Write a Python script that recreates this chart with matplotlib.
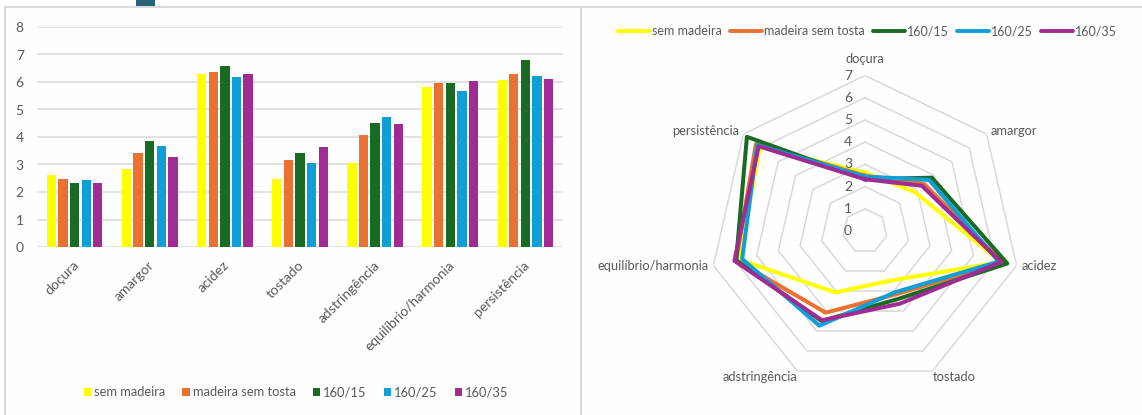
import numpy as np
import matplotlib
matplotlib.use("Agg")
import matplotlib.pyplot as plt
from matplotlib.patches import Rectangle
from matplotlib.lines import Line2D
import matplotlib.transforms as mtransforms

# ---- data -------------------------------------------------------------
categories = ["doçura", "amargor", "acidez", "tostado", "adstringência",
              "equilíbrio/harmonia", "persistência"]
series_names = ["sem madeira", "madeira sem tosta", "160/15", "160/25", "160/35"]
sem_madeira = [2.62, 2.84, 6.28, 2.49, 3.07, 5.80, 6.06]
madeira_sem_tosta = [2.49, 3.40, 6.35, 3.17, 4.08, 5.95, 6.28]
t160_15 = [2.33, 3.85, 6.57, 3.40, 4.50, 5.95, 6.80]
t160_25 = [2.45, 3.69, 6.18, 3.07, 4.73, 5.67, 6.21]
t160_35 = [2.33, 3.27, 6.28, 3.63, 4.46, 6.03, 6.12]
series_colors = ["#FFFF00", "#E97132", "#196B24", "#0F9ED5", "#A02B93"]
bar_ticks = [0, 1, 2, 3, 4, 5, 6, 7, 8]
radar_ticks = [0, 1, 2, 3, 4, 5, 6, 7]

series_values = [sem_madeira, madeira_sem_tosta, t160_15, t160_25, t160_35]

# ---- style ------------------------------------------------------------
TEXT = "#595959"
GRID = "#D9D9D9"
FONT = "Lato"
FS_TICK = 10
FS_LABEL = 9.3
FS_RLEG = 9.0
plt.rcParams["font.family"] = [FONT, "DejaVu Sans"]

W, H = 1142, 415
fig = plt.figure(figsize=(W / 100, H / 100), dpi=100)
fig.patch.set_facecolor("white")


def fx(x):
    return x / W


def fy(y):
    return 1 - y / H


# chart frames
for x0, x1 in [(5, 580.5), (581, 1150)]:
    fig.add_artist(Rectangle((fx(x0), fy(425)), fx(x1) - fx(x0), fy(7) - fy(425),
                             transform=fig.transFigure, facecolor="#FEFEFE",
                             edgecolor=GRID, lw=1.5, zorder=0))
# small selection tab on the top border
fig.add_artist(Rectangle((fx(136), fy(6)), fx(19), 6 / H, transform=fig.transFigure,
                         facecolor="#256378", edgecolor="none", zorder=1))

# ---- clustered bar chart ----------------------------------------------
ax = fig.add_axes([fx(37), fy(247), fx(526), 220 / H])
ax.patch.set_alpha(0)
n = len(series_values)
x = np.arange(len(categories))
slot, bw = 0.1545, 0.124
for i, (vals, col) in enumerate(zip(series_values, series_colors)):
    ax.bar(x + (i - (n - 1) / 2) * slot, vals, width=bw, color=col,
           edgecolor="none", zorder=2)
ax.set_xlim(-0.5, len(categories) - 0.5)
ax.set_ylim(0, 8)
ax.set_yticks(bar_ticks)
ax.yaxis.grid(True, color=GRID, lw=1.1)
ax.set_axisbelow(True)
for s in ax.spines.values():
    s.set_visible(False)
ax.tick_params(axis="y", length=0, pad=9.5, labelsize=FS_TICK, labelcolor=TEXT)
ax.set_xticks(x)
ax.set_xticklabels([])
ax.tick_params(axis="x", length=0)
off = mtransforms.ScaledTranslation(-2 / 100, -12 / 100, fig.dpi_scale_trans)
for xi, cat in zip(x, categories):
    ax.text(xi, 0, cat, transform=ax.get_xaxis_transform() + off, rotation=45,
            rotation_mode="anchor", ha="right", va="top", fontsize=FS_TICK, color=TEXT)

renderer = fig.canvas.get_renderer()


def legend_row(y, center, handle_w, gap_ht, gap_item, draw_handle, fs):
    texts, widths = [], []
    for name in series_names:
        t = fig.text(0, fy(y), name, ha="left", va="center", fontsize=fs, color=TEXT)
        widths.append(t.get_window_extent(renderer).width)
        texts.append(t)
    total = sum(handle_w + gap_ht + w for w in widths) + gap_item * (len(widths) - 1)
    xc = center - total / 2
    for t, w, col in zip(texts, widths, series_colors):
        draw_handle(xc, y, handle_w, col)
        t.set_x(fx(xc + handle_w + gap_ht))
        xc += handle_w + gap_ht + w + gap_item


def square(xl, y, w, col):
    fig.add_artist(Rectangle((fx(xl), fy(y + w / 2)), fx(w), w / H,
                             transform=fig.transFigure, facecolor=col,
                             edgecolor="none", zorder=3))


def stroke(xl, y, w, col):
    fig.add_artist(Line2D([fx(xl), fx(xl + w)], [fy(y), fy(y)],
                          transform=fig.transFigure, color=col, lw=2.8,
                          solid_capstyle="round", zorder=3))


legend_row(392, 296, 7.5, 3, 17, square, FS_LABEL)

# ---- radar chart -------------------------------------------------------
cx, cy, R = 865, 231, 155.5
rax = fig.add_axes([fx(cx - R), fy(cy + R), fx(2 * R), 2 * R / H], projection="polar")
rax.patch.set_alpha(0)
rax.set_theta_offset(np.pi / 2)
rax.set_theta_direction(-1)
rax.set_ylim(0, radar_ticks[-1])
rax.grid(False)
rax.spines["polar"].set_visible(False)
rax.set_xticks([])
rax.set_yticks([])

k = len(categories)
theta = np.arange(k) * 2 * np.pi / k
theta_closed = np.append(theta, theta[0])
for r in radar_ticks[1:]:
    rax.plot(theta_closed, [r] * (k + 1), color=GRID, lw=1.1, zorder=1)

for vals, col in zip(series_values, series_colors):
    rax.plot(theta_closed, list(vals) + [vals[0]], color=col, lw=2.9, zorder=3)

lab_off = mtransforms.ScaledTranslation(-13 / 100, 0, fig.dpi_scale_trans)
for r in radar_ticks:
    rax.text(0, r, str(r), transform=rax.transData + lab_off, ha="right", va="center",
             fontsize=FS_TICK, color=TEXT)

placements = [("center", (0, 17)), ("left", (4, 3)), ("left", (5, 0)),
              ("left", (0, -6)), ("right", (0, -6)), ("right", (-5, 0)),
              ("right", (-4, 3))]
for th, cat, (ha, (dx, dy)) in zip(theta, categories, placements):
    t_off = mtransforms.ScaledTranslation(dx / 100, dy / 100, fig.dpi_scale_trans)
    rax.text(th, radar_ticks[-1], cat, transform=rax.transData + t_off, ha=ha,
             va="center", fontsize=FS_LABEL, color=TEXT, clip_on=False)

legend_row(31, 867.5, 32, 2, 8, stroke, FS_RLEG)

fig.savefig("out.png", dpi=100, facecolor="white")
